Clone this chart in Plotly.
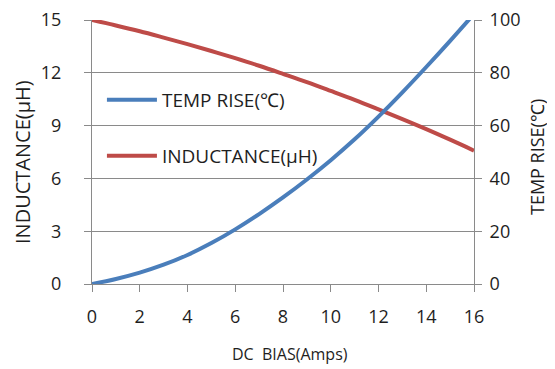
import plotly.graph_objects as go

dc_bias = [0, 1, 2, 3, 4, 5, 6, 7, 8, 9, 10, 11, 12, 13, 14, 15, 16]
inductance = [15, 14.69, 14.36, 14.0, 13.63, 13.24, 12.83, 12.4, 11.94, 11.47, 10.97, 10.46, 9.92, 9.37, 8.8, 8.2, 7.58]
temp_rise = [0, 1.9, 4.3, 7.3, 11.0, 15.5, 20.7, 26.5, 32.8, 39.6, 46.9, 54.8, 63.4, 72.6, 82.2, 92.1, 102.3]

left_ticks = [0, 3, 6, 9, 12, 15]
right_ticks = [0, 20, 40, 60, 80, 100]
x_ticks = [0, 2, 4, 6, 8, 10, 12, 14, 16]

FONT = "Open Sans"
TXT = "#1e1e1e"
GRID = "#8a8a8a"

fig = go.Figure()
fig.add_trace(go.Scatter(x=dc_bias, y=temp_rise, mode="lines", name="TEMP RISE(℃)",
                         line=dict(color="#4a7ebb", width=4, shape="spline"),
                         yaxis="y2", legend="legend"))
fig.add_trace(go.Scatter(x=dc_bias, y=inductance, mode="lines", name="INDUCTANCE(μH)",
                         line=dict(color="#be4b48", width=4, shape="spline"),
                         yaxis="y", legend="legend2"))

axis_common = dict(showline=True, linecolor=GRID, linewidth=1, ticks="outside",
                   tickcolor=GRID, ticklen=7, tickfont=dict(family=FONT, size=18, color=TXT),
                   zeroline=False, automargin=False, ticklabeloverflow="allow")

# page body has an 8px margin, so the figure is offset by (8, 8) in the window
TOP, BOTTOM, LEFT, RIGHT = 20, 284, 92, 474
fig.update_layout(
    width=547, height=361,
    margin=dict(l=84, r=81, t=12, b=85),
    paper_bgcolor="white", plot_bgcolor="white",
    font=dict(family=FONT, size=16, color=TXT),
    showlegend=True,
    xaxis=dict(range=[0, 16], tickvals=x_ticks, showgrid=False,
               ticklabelstandoff=9, **axis_common),
    yaxis=dict(range=[0, 15], tickvals=left_ticks, showgrid=True, gridcolor=GRID, gridwidth=1,
               ticklabelstandoff=19, **axis_common),
    yaxis2=dict(range=[0, 100], tickvals=right_ticks, overlaying="y", side="right", showgrid=False,
                ticklabelstandoff=4, **axis_common),
    legend=dict(x=0.026, y=(BOTTOM - 100) / (BOTTOM - TOP), xanchor="left", yanchor="middle",
                bgcolor="rgba(0,0,0,0)", itemwidth=50, font=dict(family=FONT, size=19, color=TXT)),
    legend2=dict(x=0.026, y=(BOTTOM - 156) / (BOTTOM - TOP), xanchor="left", yanchor="middle",
                 bgcolor="rgba(0,0,0,0)", itemwidth=50, font=dict(family=FONT, size=19, color=TXT)),
    annotations=[
        dict(text="DC  BIAS(Amps)", xref="paper", yref="paper", x=(290 - LEFT) / (RIGHT - LEFT),
             y=(BOTTOM - 354) / (BOTTOM - TOP),
             xanchor="center", yanchor="middle", showarrow=False,
             font=dict(family=FONT, size=16, color=TXT)),
        dict(text="INDUCTANCE(μH)", xref="paper", yref="paper", x=(22 - LEFT) / (RIGHT - LEFT),
             y=(BOTTOM - 162) / (BOTTOM - TOP),
             xanchor="center", yanchor="middle", showarrow=False, textangle=-90,
             font=dict(family=FONT, size=20, color=TXT)),
        dict(text="TEMP RISE(℃)", xref="paper", yref="paper", x=(537 - LEFT) / (RIGHT - LEFT),
             y=(BOTTOM - 157) / (BOTTOM - TOP),
             xanchor="center", yanchor="middle", showarrow=False, textangle=-90,
             font=dict(family=FONT, size=18, color=TXT)),
    ],
)

fig.write_html("out.html")
